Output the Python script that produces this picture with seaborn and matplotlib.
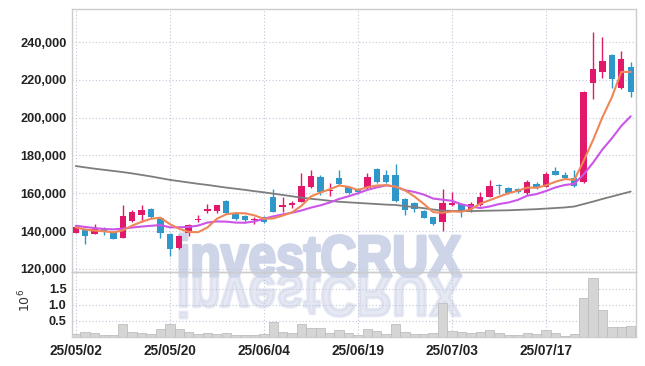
import numpy as np
import pandas as pd
import matplotlib
matplotlib.use("Agg")
import matplotlib.pyplot as plt
import seaborn as sns
from matplotlib.textpath import TextPath
from matplotlib.patches import PathPatch
from matplotlib.font_manager import FontProperties
from matplotlib.transforms import Affine2D, IdentityTransform
from matplotlib.ticker import FuncFormatter

# trading days (yy/mm/dd)
dates = [
    "25/05/02", "25/05/07", "25/05/08", "25/05/09", "25/05/12", "25/05/13", "25/05/14", "25/05/15",
    "25/05/16", "25/05/19", "25/05/20", "25/05/21", "25/05/22", "25/05/23", "25/05/26", "25/05/27",
    "25/05/28", "25/05/29", "25/05/30", "25/06/02", "25/06/04", "25/06/05", "25/06/09", "25/06/10",
    "25/06/11", "25/06/12", "25/06/13", "25/06/16", "25/06/17", "25/06/18", "25/06/19", "25/06/20",
    "25/06/23", "25/06/24", "25/06/25", "25/06/26", "25/06/27", "25/06/30", "25/07/01", "25/07/02",
    "25/07/03", "25/07/04", "25/07/07", "25/07/08", "25/07/09", "25/07/10", "25/07/11", "25/07/14",
    "25/07/15", "25/07/16", "25/07/17", "25/07/18", "25/07/21", "25/07/22", "25/07/23", "25/07/24",
    "25/07/25", "25/07/28", "25/07/29", "25/07/30",
]

opens = [
    139200, 140900, 138600, 141300, 139500, 136500, 145500, 148700, 151700, 146800,
    138500, 130900, 138800, 146000, 150800, 150800, 155900, 149800, 148200, 146000,
    147600, 158200, 153200, 154200, 155600, 163500, 168400, 161400, 167900, 163500,
    162300, 162600, 172700, 169700, 169700, 156800, 154700, 150800, 147300, 144600,
    154300, 154400, 151500, 153800, 158200, 164400, 162600, 162100, 160300, 164900,
    163500, 171800, 169700, 167900, 165800, 218200, 224400, 233200, 215500, 226600,
]
highs = [
    143000, 141500, 143800, 142000, 140000, 153800, 151200, 153800, 152000, 147600,
    138800, 138100, 143600, 148500, 154300, 154000, 156400, 150300, 148700, 147300,
    148200, 162100, 158200, 156100, 170600, 172300, 169700, 165300, 172300, 163700,
    162700, 170900, 173200, 172300, 175300, 157500, 155600, 151200, 147600, 162100,
    160900, 154700, 155600, 160500, 167000, 164900, 163500, 163000, 167000, 166200,
    171400, 174000, 171500, 172300, 214000, 245500, 242900, 233500, 235300, 229300,
]
lows = [
    138800, 133000, 138300, 137900, 135800, 136200, 145000, 145000, 147100, 136200,
    127000, 130700, 137400, 144600, 149700, 149400, 149000, 145600, 145000, 143800,
    144400, 149900, 150300, 152400, 155500, 163000, 159100, 158600, 164400, 159500,
    159500, 162300, 165600, 165300, 155500, 148500, 150300, 146800, 143200, 140000,
    153500, 147600, 150300, 153500, 157900, 159400, 159500, 160000, 159100, 162100,
    163300, 169400, 167500, 163500, 165500, 209900, 221200, 215900, 215000, 211100,
]
closes = [
    142300, 137600, 140900, 139500, 136000, 148000, 149900, 151200, 147300, 139200,
    130700, 137400, 143200, 146400, 151700, 153800, 149400, 146200, 145900, 146200,
    145000, 150300, 153500, 154500, 163900, 169300, 160900, 161700, 164900, 160300,
    160500, 168400, 166200, 166200, 156000, 151200, 151700, 147100, 143800, 154700,
    154600, 150800, 154400, 157900, 163900, 163900, 160000, 160900, 166200, 163500,
    170200, 169700, 167900, 164000, 213800, 225800, 230000, 220300, 231000, 213800,
]
volumes = [
    83000, 146000, 115000, 52000, 52000, 396000, 146000, 115000, 83000, 240000,
    396000, 240000, 146000, 83000, 115000, 83000, 115000, 52000, 52000, 52000,
    83000, 458000, 146000, 115000, 396000, 270000, 270000, 115000, 210000, 115000,
    52000, 240000, 177000, 83000, 396000, 146000, 83000, 83000, 115000, 1050000,
    177000, 146000, 115000, 146000, 210000, 115000, 52000, 52000, 115000, 83000,
    210000, 115000, 30000, 83000, 1210000, 1830000, 830000, 310000, 310000, 330000,
]
ma_short = [
    142000, 140800, 140300, 139900, 139300, 140400, 142900, 144900, 146500, 147100,
    143700, 141200, 139600, 139400, 141900, 146500, 148900, 149500, 149400, 148300,
    146500, 146700, 148200, 149900, 153400, 158300, 160400, 162100, 164100, 163400,
    161700, 163200, 164100, 164300, 163500, 161600, 158300, 154400, 150000, 149700,
    150400, 150200, 151600, 154500, 156300, 158200, 160000, 161300, 163000, 162900,
    164200, 166100, 167500, 167100, 177100, 188200, 200300, 210800, 224200, 224200,
]
ma_mid = [
    142800, 142200, 141600, 141100, 140900, 141300, 141900, 142400, 142800, 143200,
    142000, 142000, 142200, 142900, 144500, 145100, 145000, 144500, 144400, 145100,
    146500, 147800, 148800, 149700, 150900, 152400, 153600, 155100, 157000, 158400,
    160000, 161800, 163100, 164200, 163500, 161600, 160700, 159300, 157200, 156600,
    156000, 154200, 153000, 152200, 153000, 154300, 155100, 156500, 158700, 159600,
    161200, 163100, 164400, 165000, 170000, 176200, 183200, 189100, 195600, 200700,
]
ma_long = [
    174400, 173700, 173000, 172400, 171800, 171200, 170500, 169700, 168900, 168000,
    167100, 166400, 165700, 165000, 164400, 163700, 163000, 162400, 161800, 161100,
    160500, 159800, 159100, 158400, 157700, 157100, 156600, 156000, 155500, 155200,
    154900, 154600, 154300, 154000, 153800, 153200, 152700, 152100, 151400, 150800,
    150700, 150600, 150600, 150700, 150800, 150900, 151000, 151200, 151400, 151600,
    151900, 152200, 152500, 153000, 154300, 155600, 157000, 158300, 159600, 160900,
]

price_ticks = [120000, 140000, 160000, 180000, 200000, 220000, 240000]
vol_ticks = [500000, 1000000, 1500000]
label_every = 10

UP = "#e2196a"
DOWN = "#2f97c9"
GRID = "#c2c6da"
TEXT = "#222222"

df = pd.DataFrame({
    "date": dates, "open": opens, "high": highs, "low": lows, "close": closes,
    "volume": volumes, "ma_short": ma_short, "ma_mid": ma_mid, "ma_long": ma_long,
})
df["x"] = np.arange(len(df))

sns.set_theme(style="white")
plt.rcParams["font.family"] = ["Liberation Sans", "DejaVu Sans"]

fig = plt.figure(figsize=(6.45, 3.66), dpi=100)
ax = fig.add_axes([0.1116, 0.256, 0.8744, 0.7186])
ax_v = fig.add_axes([0.1116, 0.0792, 0.8744, 0.1768])
for a in (ax, ax_v):
    a.set_facecolor("none")

# watermark + its reflection, in pixel coordinates behind the axes
tp = TextPath((0, 0), "investCRUX", size=1,
              prop=FontProperties(family="Liberation Sans", weight="bold"))
ext = tp.get_extents()
sx = 281 / ext.width
sy = 42 / ext.y1
base = 366 - 276
wm = "#cfd5e8"
for flip, alpha in ((1, 1.0), (-1, 0.5)):
    tr = Affine2D().translate(-ext.x0, 0).scale(sx, flip * sy).translate(180, base)
    fig.add_artist(PathPatch(tr.transform_path(tp), facecolor=wm, edgecolor=wm,
                             linewidth=2.2, joinstyle="round", alpha=alpha,
                             transform=IdentityTransform(), zorder=-1))

# candles
for is_up, col in ((True, UP), (False, DOWN)):
    sub = df[(df["close"] >= df["open"]) == is_up]
    ax.vlines(sub["x"], sub["low"], sub["high"], color=col, linewidth=1.0, zorder=3)
    diff = (sub["close"] - sub["open"]).abs()
    body = diff.clip(lower=800)
    bottom = np.minimum(sub["open"], sub["close"]) - (body - diff) / 2
    ax.bar(sub["x"], body, bottom=bottom, width=0.68, color=col, linewidth=0, zorder=4)

# moving averages
sns.lineplot(data=df, x="x", y="ma_long", ax=ax, color="#7d7d7d", linewidth=1.3, zorder=5)
sns.lineplot(data=df, x="x", y="ma_mid", ax=ax, color="#cc55e8", linewidth=1.5, zorder=5)
sns.lineplot(data=df, x="x", y="ma_short", ax=ax, color="#ef8656", linewidth=1.5, zorder=6)

# volume
sns.barplot(data=df, x="x", y="volume", ax=ax_v, color="#d5d5d5", width=1.0,
            edgecolor="#bebebe", linewidth=0.6, errorbar=None, saturation=1,
            native_scale=True, zorder=3)

xticks = df["x"][::label_every].tolist()
for a in (ax, ax_v):
    a.set_xlim(-0.4, 59.56)
    a.set_xticks(xticks)
    a.grid(True, linestyle=(0, (1, 2)), color=GRID, linewidth=0.8)
    a.set_axisbelow(True)
    a.tick_params(length=0)
    a.set_xlabel("")
    for s in a.spines.values():
        s.set_color("#cccccc")
        s.set_linewidth(1.0)

ax.set_ylim(118200, 257300)
ax.set_yticks(price_ticks)
ax.set_yticklabels([f"{v:,}" for v in price_ticks], fontsize=9.2,
                   fontweight="bold", color=TEXT)
ax.tick_params(axis="y", pad=4)
ax.set_xticklabels([])
ax.set_ylabel("")

ax_v.set_ylim(0, 2.02e6)
ax_v.set_yticks(vol_ticks)
ax_v.yaxis.set_major_formatter(FuncFormatter(lambda v, p: f"{v / 1e6:.1f}"))
for lab in ax_v.get_yticklabels():
    lab.set_fontsize(9.2)
    lab.set_fontweight("bold")
    lab.set_color(TEXT)
ax_v.tick_params(axis="y", pad=4)
ax_v.set_xticklabels(df["date"][::label_every].tolist(), fontsize=9.8,
                     fontweight="bold", color=TEXT)
ax_v.tick_params(axis="x", pad=5)
ax_v.set_ylabel(r"$10^{6}$", fontsize=9, color="#333333")
ax_v.yaxis.set_label_coords(-0.069, 0.57)

fig.savefig("out.png", dpi=100)
plt.close(fig)
